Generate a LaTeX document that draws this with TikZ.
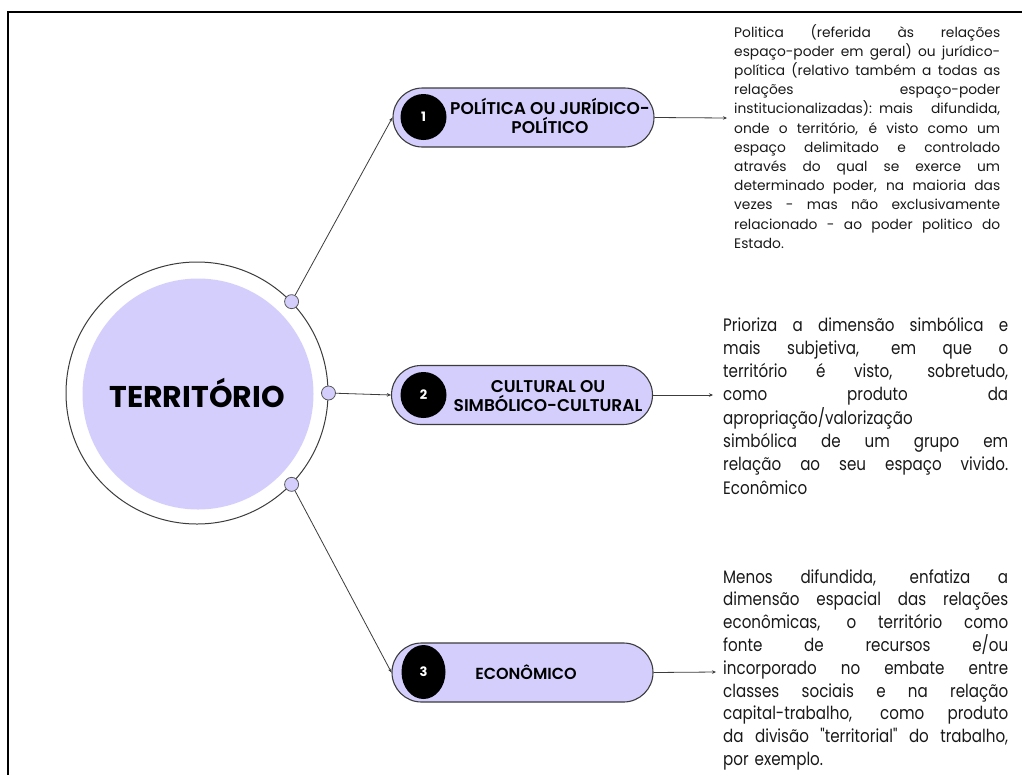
\documentclass[tikz,border=0pt]{standalone}
\usepackage{fontspec}
\setmainfont{Poppins}
\newfontfamily\bodyf{Poppins}[FakeStretch=0.84]
\newfontfamily\semib{Poppins}[UprightFont={* SemiBold}]
\usetikzlibrary{arrows.meta,shapes.geometric}
\definecolor{lav}{HTML}{D4CEFD}
\definecolor{edgec}{HTML}{3C3C3C}
\newcommand{\jline}[2]{\makebox[#1][s]{\spaceskip=\fontdimen2\font plus 1fil minus .35\fontdimen2\font\relax #2}}
\begin{document}
\begin{tikzpicture}[x=1pt,y=-1pt,
  pill/.style={draw=edgec, line width=1.1pt, fill=lav, rounded corners=29.5pt, minimum width=261pt, minimum height=59pt, inner sep=0},
  numdot/.style={circle, fill=black, minimum size=46pt, inner sep=0, text=white, font=\fontsize{13}{13}\selectfont\bfseries},
  knob/.style={circle, draw=edgec!85, line width=0.8pt, fill=lav, minimum size=14pt, inner sep=0},
  conn/.style={draw=edgec, line width=0.8pt, -{Stealth[length=4pt,width=3.5pt]}},
  plabel/.style={align=center, font=\semib\fontsize{17}{19.5}\selectfont, inner sep=0},
  body/.style={anchor=base west, align=left, inner sep=0, text=black!90}]
\useasboundingbox (0,0) rectangle (1022,774);
\fill[white] (0,0) rectangle (1022,774);
\draw[line width=2pt] (8,780) -- (8,12) -- (1030,12);

\node[circle, draw=edgec, line width=1pt, minimum size=262pt, inner sep=0] (outer) at (197,393) {};
\node[circle, fill=lav, minimum size=231pt, inner sep=0] (inner) at (198,394) {};
\node[font=\fontsize{30}{30}\selectfont\bfseries, inner sep=0] (title) at (197,393) {TERRITÓRIO};

\node[knob] (k1) at (outer.44) {};
\node[knob] (k2) at (outer.0) {};
\node[knob] (k3) at (outer.-44) {};

\node[pill] (p1) at (523.5,117.5) {};
\node[pill] (p2) at (522,395) {};
\node[pill] (p3) at (522.5,672.5) {};

\node[numdot] (n1) at (423.5,117) {1};
\node[numdot] (n2) at (423.5,395) {2};
\node[numdot, ellipse, minimum width=44pt, minimum height=54pt] (n3) at (423.5,672) {3};

\node[plabel] (l1) at (550,116) {POLÍTICA OU JURÍDICO-\\POLÍTICO};
\node[plabel] (l2) at (548,396) {CULTURAL OU\\SIMBÓLICO-CULTURAL};
\node[plabel, font=\semib\fontsize{16}{19}\selectfont] (l3) at (526,672) {ECONÔMICO};

\coordinate (a1) at (727,118);
\coordinate (a2) at (713,395);
\coordinate (a3) at (716,672);

\draw[conn] (k1) -- (p1.west);
\draw[conn] (k2) -- (p2.west);
\draw[conn] (k3) -- (p3.west);
\draw[conn] (p1.east) -- (a1);
\draw[conn] (p2.east) -- (a2);
\draw[conn] (p3.east) -- (a3);

\node[body, text width=266pt, font=\fontsize{13.8}{19.2}\selectfont] (t1) at (734,37) {%
\jline{266pt}{Politica (referida às relações}\\
\jline{266pt}{espaço-poder em geral) ou jurídico-}\\
\jline{266pt}{política (relativo também a todas as}\\
\jline{266pt}{relações espaço-poder}\\
\jline{266pt}{institucionalizadas): mais difundida,}\\
\jline{266pt}{onde o território, é visto como um}\\
\jline{266pt}{espaço delimitado e controlado}\\
\jline{266pt}{através do qual se exerce um}\\
\jline{266pt}{determinado poder, na maioria das}\\
\jline{266pt}{vezes - mas não exclusivamente}\\
\jline{266pt}{relacionado - ao poder politico do}\\
Estado.};

\node[body, text width=285pt, font=\bodyf\fontsize{18}{23.3}\selectfont] (t2) at (723,331) {%
\jline{285pt}{Prioriza a dimensão simbólica e}\\
\jline{285pt}{mais subjetiva, em que o}\\
\jline{285pt}{território é visto, sobretudo,}\\
\jline{285pt}{como produto da}\\
apropriação/valorização\\
\jline{285pt}{simbólica de um grupo em}\\
\jline{285pt}{relação ao seu espaço vivido.}\\
Econômico};

\node[body, text width=285pt, font=\bodyf\fontsize{18}{22.8}\selectfont] (t3) at (723,583) {%
\jline{285pt}{Menos difundida, enfatiza a}\\
\jline{285pt}{dimensão espacial das relações}\\
\jline{285pt}{econômicas, o território como}\\
\jline{285pt}{fonte de recursos e/ou}\\
\jline{285pt}{incorporado no embate entre}\\
\jline{285pt}{classes sociais e na relação}\\
\jline{285pt}{capital-trabalho, como produto}\\
\jline{285pt}{da divisão "territorial" do trabalho,}\\
por exemplo.};
\end{tikzpicture}
\end{document}
